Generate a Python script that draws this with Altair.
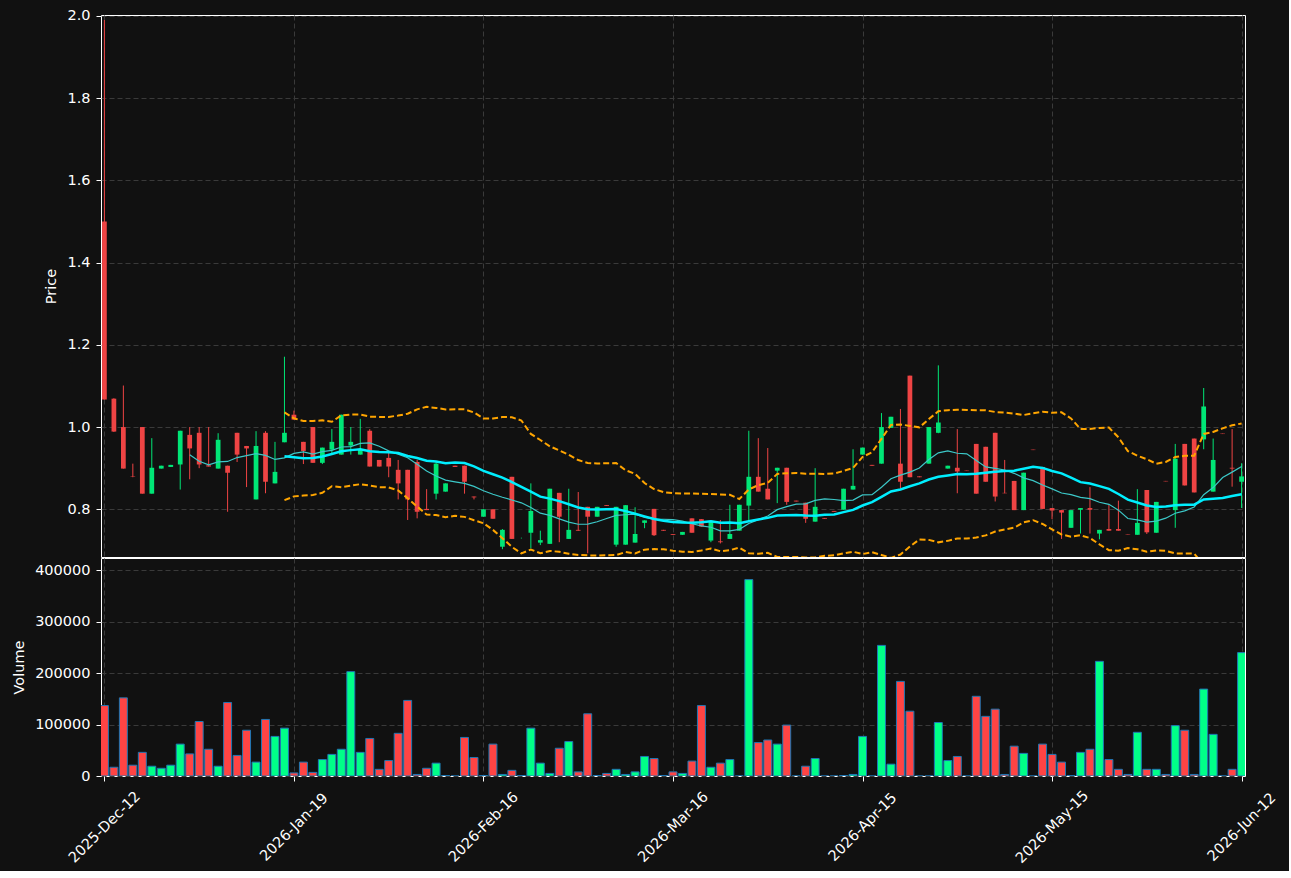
import altair as alt
import pandas as pd

# ---------------- data ----------------
opens = [1.500, 1.069, 1.000, 0.880, 1.000, 0.838, 0.899, 0.903, 0.909, 0.981,
         0.986, 0.907, 0.899, 0.906, 0.986, 0.954, 0.824, 0.986, 0.863, 0.963,
         1.030, 0.964, 1.000, 0.913, 0.945, 0.933, 0.955, 0.933, 0.991, 0.920,
         0.925, 0.896, 0.896, 0.915, 0.801, 0.838, 0.843, 0.906, 0.906, 0.831,
         0.782, 0.800, 0.709, 0.879, 0.730, 0.743, 0.719, 0.716, 0.840, 0.728,
         0.750, 0.806, 0.782, 0.810, 0.714, 0.714, 0.719, 0.767, 0.801, 0.750,
         0.740, 0.738, 0.778, 0.776, 0.724, 0.722, 0.728, 0.748, 0.809, 0.879,
         0.850, 0.894, 0.901, 0.821, 0.816, 0.770, 0.779, 0.796, 0.799, 0.848,
         0.933, 0.908, 0.911, 0.998, 0.911, 1.125, 0.880, 0.911, 0.986, 0.899,
         0.901, 0.894, 0.959, 0.952, 0.986, 0.840, 0.869, 0.798, 0.945, 0.903,
         0.803, 0.798, 0.755, 0.799, 0.803, 0.741, 0.752, 0.752, 0.740, 0.738,
         0.847, 0.743, 0.869, 0.798, 0.959, 0.972, 0.970, 0.843, 0.984, 0.901,
         0.867]
highs = [1.990, 1.070, 1.101, 0.911, 1.000, 0.973, 0.906, 0.908, 0.991, 1.000,
         1.000, 1.000, 0.985, 0.906, 0.986, 0.954, 0.990, 0.990, 0.964, 1.171,
         1.040, 0.964, 1.000, 0.950, 0.995, 1.030, 1.000, 1.020, 0.995, 0.920,
         0.938, 0.920, 0.896, 0.920, 0.849, 0.915, 0.863, 0.906, 0.906, 0.831,
         0.800, 0.800, 0.752, 0.879, 0.731, 0.863, 0.748, 0.850, 0.840, 0.850,
         0.842, 0.806, 0.806, 0.810, 0.806, 0.810, 0.805, 0.773, 0.801, 0.750,
         0.740, 0.745, 0.778, 0.776, 0.772, 0.774, 0.811, 0.811, 0.991, 0.973,
         0.949, 0.901, 0.901, 0.821, 0.816, 0.900, 0.779, 0.796, 0.850, 0.946,
         0.950, 0.908, 1.034, 1.025, 1.044, 1.125, 0.880, 1.000, 1.150, 0.906,
         0.995, 0.894, 0.959, 0.952, 0.986, 0.920, 0.869, 0.889, 0.945, 0.903,
         0.803, 0.798, 0.798, 0.803, 0.854, 0.750, 0.811, 0.821, 0.740, 0.849,
         0.847, 0.818, 0.869, 0.959, 0.959, 0.972, 1.095, 0.972, 0.984, 0.995,
         0.912]
lows = [1.067, 0.988, 0.899, 0.878, 0.838, 0.838, 0.899, 0.903, 0.848, 0.873,
        0.900, 0.904, 0.899, 0.794, 0.915, 0.854, 0.824, 0.839, 0.863, 0.963,
        1.018, 0.910, 0.913, 0.910, 0.933, 0.933, 0.933, 0.933, 0.904, 0.904,
        0.878, 0.824, 0.774, 0.778, 0.798, 0.824, 0.843, 0.903, 0.838, 0.824,
        0.782, 0.777, 0.703, 0.728, 0.729, 0.705, 0.713, 0.716, 0.720, 0.728,
        0.748, 0.693, 0.782, 0.808, 0.709, 0.714, 0.719, 0.754, 0.735, 0.748,
        0.738, 0.738, 0.743, 0.758, 0.720, 0.717, 0.728, 0.748, 0.774, 0.843,
        0.824, 0.815, 0.811, 0.819, 0.767, 0.770, 0.777, 0.794, 0.799, 0.848,
        0.933, 0.906, 0.911, 0.998, 0.851, 0.878, 0.878, 0.911, 0.985, 0.899,
        0.839, 0.893, 0.838, 0.867, 0.819, 0.839, 0.798, 0.798, 0.944, 0.801,
        0.776, 0.728, 0.755, 0.741, 0.741, 0.727, 0.748, 0.748, 0.739, 0.738,
        0.740, 0.743, 0.868, 0.755, 0.858, 0.841, 0.946, 0.843, 0.983, 0.855,
        0.803]
closes = [1.067, 0.989, 0.899, 0.879, 0.838, 0.901, 0.906, 0.908, 0.991, 0.948,
          0.909, 0.904, 0.969, 0.889, 0.933, 0.948, 0.954, 0.867, 0.891, 0.986,
          1.018, 0.942, 0.913, 0.950, 0.964, 1.030, 0.964, 0.945, 0.904, 0.904,
          0.904, 0.863, 0.824, 0.794, 0.798, 0.911, 0.863, 0.903, 0.867, 0.829,
          0.800, 0.777, 0.750, 0.728, 0.730, 0.796, 0.725, 0.850, 0.782, 0.750,
          0.748, 0.782, 0.806, 0.808, 0.806, 0.810, 0.740, 0.773, 0.737, 0.748,
          0.738, 0.745, 0.743, 0.758, 0.772, 0.720, 0.740, 0.811, 0.879, 0.843,
          0.824, 0.901, 0.818, 0.819, 0.777, 0.806, 0.777, 0.794, 0.850, 0.857,
          0.950, 0.906, 1.000, 1.025, 0.867, 0.878, 0.878, 1.000, 1.011, 0.906,
          0.892, 0.893, 0.838, 0.867, 0.831, 0.839, 0.798, 0.889, 0.944, 0.801,
          0.797, 0.792, 0.798, 0.803, 0.799, 0.750, 0.748, 0.748, 0.739, 0.767,
          0.744, 0.818, 0.868, 0.923, 0.858, 0.841, 1.050, 0.920, 0.983, 0.899,
          0.880]
volumes = [137000, 17000, 152000, 21000, 46000, 19000, 15000, 21000, 62000, 43000,
           106000, 52000, 19000, 143000, 40000, 89000, 27000, 110000, 77000, 93000,
           6000, 27000, 7000, 32000, 42000, 52000, 203000, 46000, 73000, 13000,
           30000, 83000, 147000, 3000, 15000, 25000, 1000, 0, 75000, 36000,
           1000, 62000, 3000, 11000, 1000, 93000, 25000, 5000, 54000, 67000,
           8000, 121000, 1000, 5000, 13000, 3000, 8000, 38000, 34000, 1000,
           8000, 5000, 29000, 137000, 17000, 25000, 32000, 0, 382000, 65000,
           70000, 62000, 99000, 0, 19000, 34000, 0, 0, 1000, 3000,
           77000, 0, 254000, 23000, 184000, 126000, 0, 0, 104000, 30000,
           38000, 0, 155000, 116000, 130000, 3000, 58000, 44000, 0, 62000,
           42000, 27000, 1000, 46000, 52000, 223000, 32000, 13000, 3000, 85000,
           13000, 13000, 3000, 98000, 89000, 3000, 169000, 81000, 0, 13000,
           240000]

tick_positions = [0, 20, 40, 60, 80, 100, 120]
tick_labels = ["2025-Dec-12", "2026-Jan-19", "2026-Feb-16", "2026-Mar-16",
               "2026-Apr-15", "2026-May-15", "2026-Jun-12"]
price_ticks = [0.8, 1.0, 1.2, 1.4, 1.6, 1.8, 2.0]
volume_ticks = [0, 100000, 200000, 300000, 400000]

# ---------------- styling ----------------
BG = "#111111"
UP_CANDLE = "#00e676"
DOWN_CANDLE = "#ef4444"
UP_VOL = "#00ff88"
DOWN_VOL = "#ff4444"
VOL_EDGE = "#1f77b4"
FONT = "DejaVu Sans"
FS = 14.5
X_DOMAIN = [-0.36, 120.36]
W = 1144

df = pd.DataFrame({
    "i": list(range(len(opens))),
    "open": opens, "high": highs, "low": lows, "close": closes, "volume": volumes,
})

label_expr = ("[" + ",".join(f"'{t}'" for t in tick_labels) + "][indexof(["
              + ",".join(str(p) for p in tick_positions) + "], datum.value)]")

xscale = alt.Scale(domain=X_DOMAIN, nice=False, zero=False)
up_cond = "datum.close >= datum.open"

top_xaxis = alt.Axis(values=tick_positions, labels=False, ticks=False, domain=False,
                     title=None, grid=True, minExtent=0, maxExtent=0, labelPadding=0)
bot_xaxis = alt.Axis(values=tick_positions, labelExpr=label_expr, labelAngle=-45,
                     labelAlign="center", labelBaseline="middle", labelPadding=46,
                     tickSize=5, labelOverlap=False, domain=False, title=None, grid=True)

yscale = alt.Scale(domain=[0.684, 2.002], nice=False, zero=False)
yaxis = alt.Axis(values=price_ticks, format=".1f", title="Price", tickSize=5,
                 labelPadding=6, titlePadding=8, domain=False, grid=True)

base = alt.Chart(df).transform_calculate(
    body_lo="min(datum.open, datum.close)",
    body_hi="max(datum.open, datum.close)",
    xl="datum.i - 0.25",
    xr="datum.i + 0.25",
    vl="datum.i - 0.42",
    vr="datum.i + 0.42",
    vzero="0",
)

wicks = base.mark_rule(strokeWidth=1, clip=True).encode(
    x=alt.X("i:Q", scale=xscale, axis=top_xaxis),
    y=alt.Y("low:Q", scale=yscale, axis=yaxis),
    y2="high:Q",
    color=alt.condition(up_cond, alt.value(UP_CANDLE), alt.value(DOWN_CANDLE)),
)

bodies = base.mark_bar(clip=True).encode(
    x=alt.X("xl:Q", scale=xscale, axis=top_xaxis),
    x2="xr:Q",
    y=alt.Y("body_lo:Q", scale=yscale, axis=yaxis),
    y2="body_hi:Q",
    color=alt.condition(up_cond, alt.value(UP_CANDLE), alt.value(DOWN_CANDLE)),
)

ma10 = base.transform_window(
    ma10="mean(close)", frame=[-9, 0], sort=[alt.SortField("i")]
).transform_filter("datum.i >= 9").mark_line(
    color="#3cc8c8", strokeWidth=1.2, clip=True
).encode(
    x=alt.X("i:Q", scale=xscale, axis=top_xaxis),
    y=alt.Y("ma10:Q", scale=yscale, axis=yaxis),
)

bb = base.transform_window(
    ma20="mean(close)", sd20="stdev(close)", frame=[-19, 0], sort=[alt.SortField("i")]
).transform_filter("datum.i >= 19").transform_calculate(
    upper="datum.ma20 + 2 * datum.sd20",
    lower="datum.ma20 - 2 * datum.sd20",
)

ma20 = bb.mark_line(color="#00efff", strokeWidth=2.5, clip=True).encode(
    x=alt.X("i:Q", scale=xscale, axis=top_xaxis),
    y=alt.Y("ma20:Q", scale=yscale, axis=yaxis),
)
upper = bb.mark_line(color="#ffa500", strokeWidth=2, strokeDash=[6, 3], clip=True).encode(
    x=alt.X("i:Q", scale=xscale, axis=top_xaxis),
    y=alt.Y("upper:Q", scale=yscale, axis=yaxis),
)
lower = bb.mark_line(color="#ffa500", strokeWidth=2, strokeDash=[6, 3], clip=True).encode(
    x=alt.X("i:Q", scale=xscale, axis=top_xaxis),
    y=alt.Y("lower:Q", scale=yscale, axis=yaxis),
)

price = alt.layer(wicks, bodies, ma10, ma20, upper, lower).properties(width=W, height=542)

vol = base.mark_bar(stroke=VOL_EDGE, strokeWidth=1, clip=True).encode(
    x=alt.X("vl:Q", scale=xscale, axis=bot_xaxis),
    x2="vr:Q",
    y=alt.Y("volume:Q", scale=alt.Scale(domain=[0, 424000], nice=False),
            axis=alt.Axis(values=volume_ticks, format="d", title="Volume", tickSize=5,
                          labelPadding=6, titlePadding=8, domain=False, grid=True)),
    y2="vzero:Q",
    color=alt.condition(up_cond, alt.value(UP_VOL), alt.value(DOWN_VOL)),
).properties(width=W, height=218)

chart = alt.vconcat(price, vol, spacing=-3).properties(
    background=BG,
    padding={"left": 11, "top": 7, "right": 10, "bottom": 5},
).configure_view(
    stroke="white", strokeWidth=1
).configure_axis(
    labelColor="white", titleColor="white", tickColor="white",
    labelFont=FONT, titleFont=FONT, labelFontSize=FS, titleFontSize=FS,
    titleFontWeight="normal", gridColor="#3a3a3a", gridDash=[5, 3], gridWidth=1,
)

chart.save("out.html", embed_options={"renderer": "svg", "actions": False})
